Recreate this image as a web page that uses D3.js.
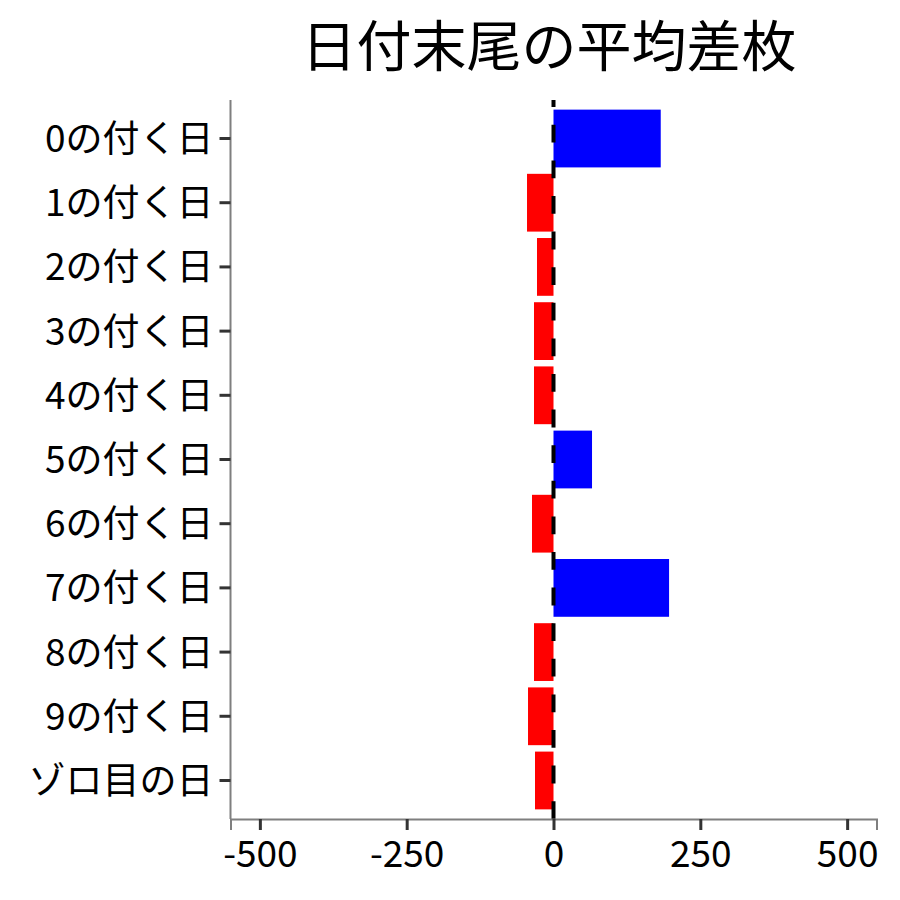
<!DOCTYPE html>
<html>
<head>
<meta charset="utf-8">
<script src="https://d3js.org/d3.v7.min.js"></script>
<style>
    body { margin: 0; background: white; }
    text { font-family: "Noto Sans CJK JP", "Noto Sans", sans-serif; fill: black; }
</style>
</head>
<body>
<svg id="visual" width="900" height="900"></svg>
<script>
    // data
    const categories = ["0の付く日", "1の付く日", "2の付く日", "3の付く日", "4の付く日",
        "5の付く日", "6の付く日", "7の付く日", "8の付く日", "9の付く日", "ゾロ目の日"];
    const diffs = [182.6, -45.1, -28.1, -33.2, -33.2, 65.6, -36.6, 196.8, -33.2, -43.4, -31.5];
    const xTicks = [-500, -250, 0, 250, 500];
    const title = "日付末尾の平均差枚";

    const svg = d3.select("#visual");
    const panelLeft = 230.5, panelRight = 876.5, panelTop = 100, panelBottom = 819;

    const x = d3.scaleLinear().domain([-550, 550]).range([panelLeft, panelRight]);
    // ggplot-like discrete axis: centres 0.6 step from the edges, bars 0.9 wide
    const y = d3.scaleBand().domain(categories).range([panelTop, panelBottom])
        .paddingInner(0.1).paddingOuter(0.15);

    // bars
    svg.append("g").selectAll("rect")
        .data(categories)
        .enter()
        .append("rect")
        .attr("x", (d, i) => x(Math.min(0, diffs[i])))
        .attr("y", d => y(d))
        .attr("width", (d, i) => Math.abs(x(diffs[i]) - x(0)))
        .attr("height", y.bandwidth())
        .style("fill", (d, i) => diffs[i] < 0 ? "red" : "blue");

    // dashed zero line, drawn from the bottom up
    svg.append("line")
        .attr("x1", x(0)).attr("x2", x(0))
        .attr("y1", panelBottom).attr("y2", panelTop)
        .attr("stroke", "black")
        .attr("stroke-width", 4)
        .attr("stroke-dasharray", "17.8 17.8");

    // x axis
    const xAxis = svg.append("g")
        .attr("transform", "translate(0," + panelBottom + ")")
        .call(d3.axisBottom(x).tickValues(xTicks).tickSize(11).tickPadding(6)
            .tickFormat(d => d));
    xAxis.select(".domain").attr("stroke", "#7f7f7f").attr("stroke-width", 2);
    xAxis.selectAll(".tick line").attr("stroke", "#333333").attr("stroke-width", 3);
    xAxis.selectAll(".tick text")
        .attr("font-size", 37)
        .attr("dy", null)
        .attr("y", 48)
        .style("font-family", "Noto Sans CJK JP");

    // y axis
    const yAxis = svg.append("g")
        .attr("transform", "translate(" + panelLeft + ",0)")
        .call(d3.axisLeft(y).tickSize(11).tickPadding(8));
    yAxis.select(".domain").attr("stroke", "#7f7f7f").attr("stroke-width", 2)
        .attr("d", "M0," + panelTop + "V" + panelBottom);
    yAxis.selectAll(".tick line").attr("stroke", "#333333").attr("stroke-width", 3);
    yAxis.selectAll(".tick text")
        .attr("font-size", 37)
        .attr("dy", null)
        .attr("y", 13.5)
        .attr("x", -17)
        .style("font-family", "Noto Sans CJK JP");

    // title
    svg.append("text")
        .attr("x", 549)
        .attr("y", 66)
        .attr("text-anchor", "middle")
        .attr("font-size", 55)
        .text(title);
</script>
</body>
</html>
